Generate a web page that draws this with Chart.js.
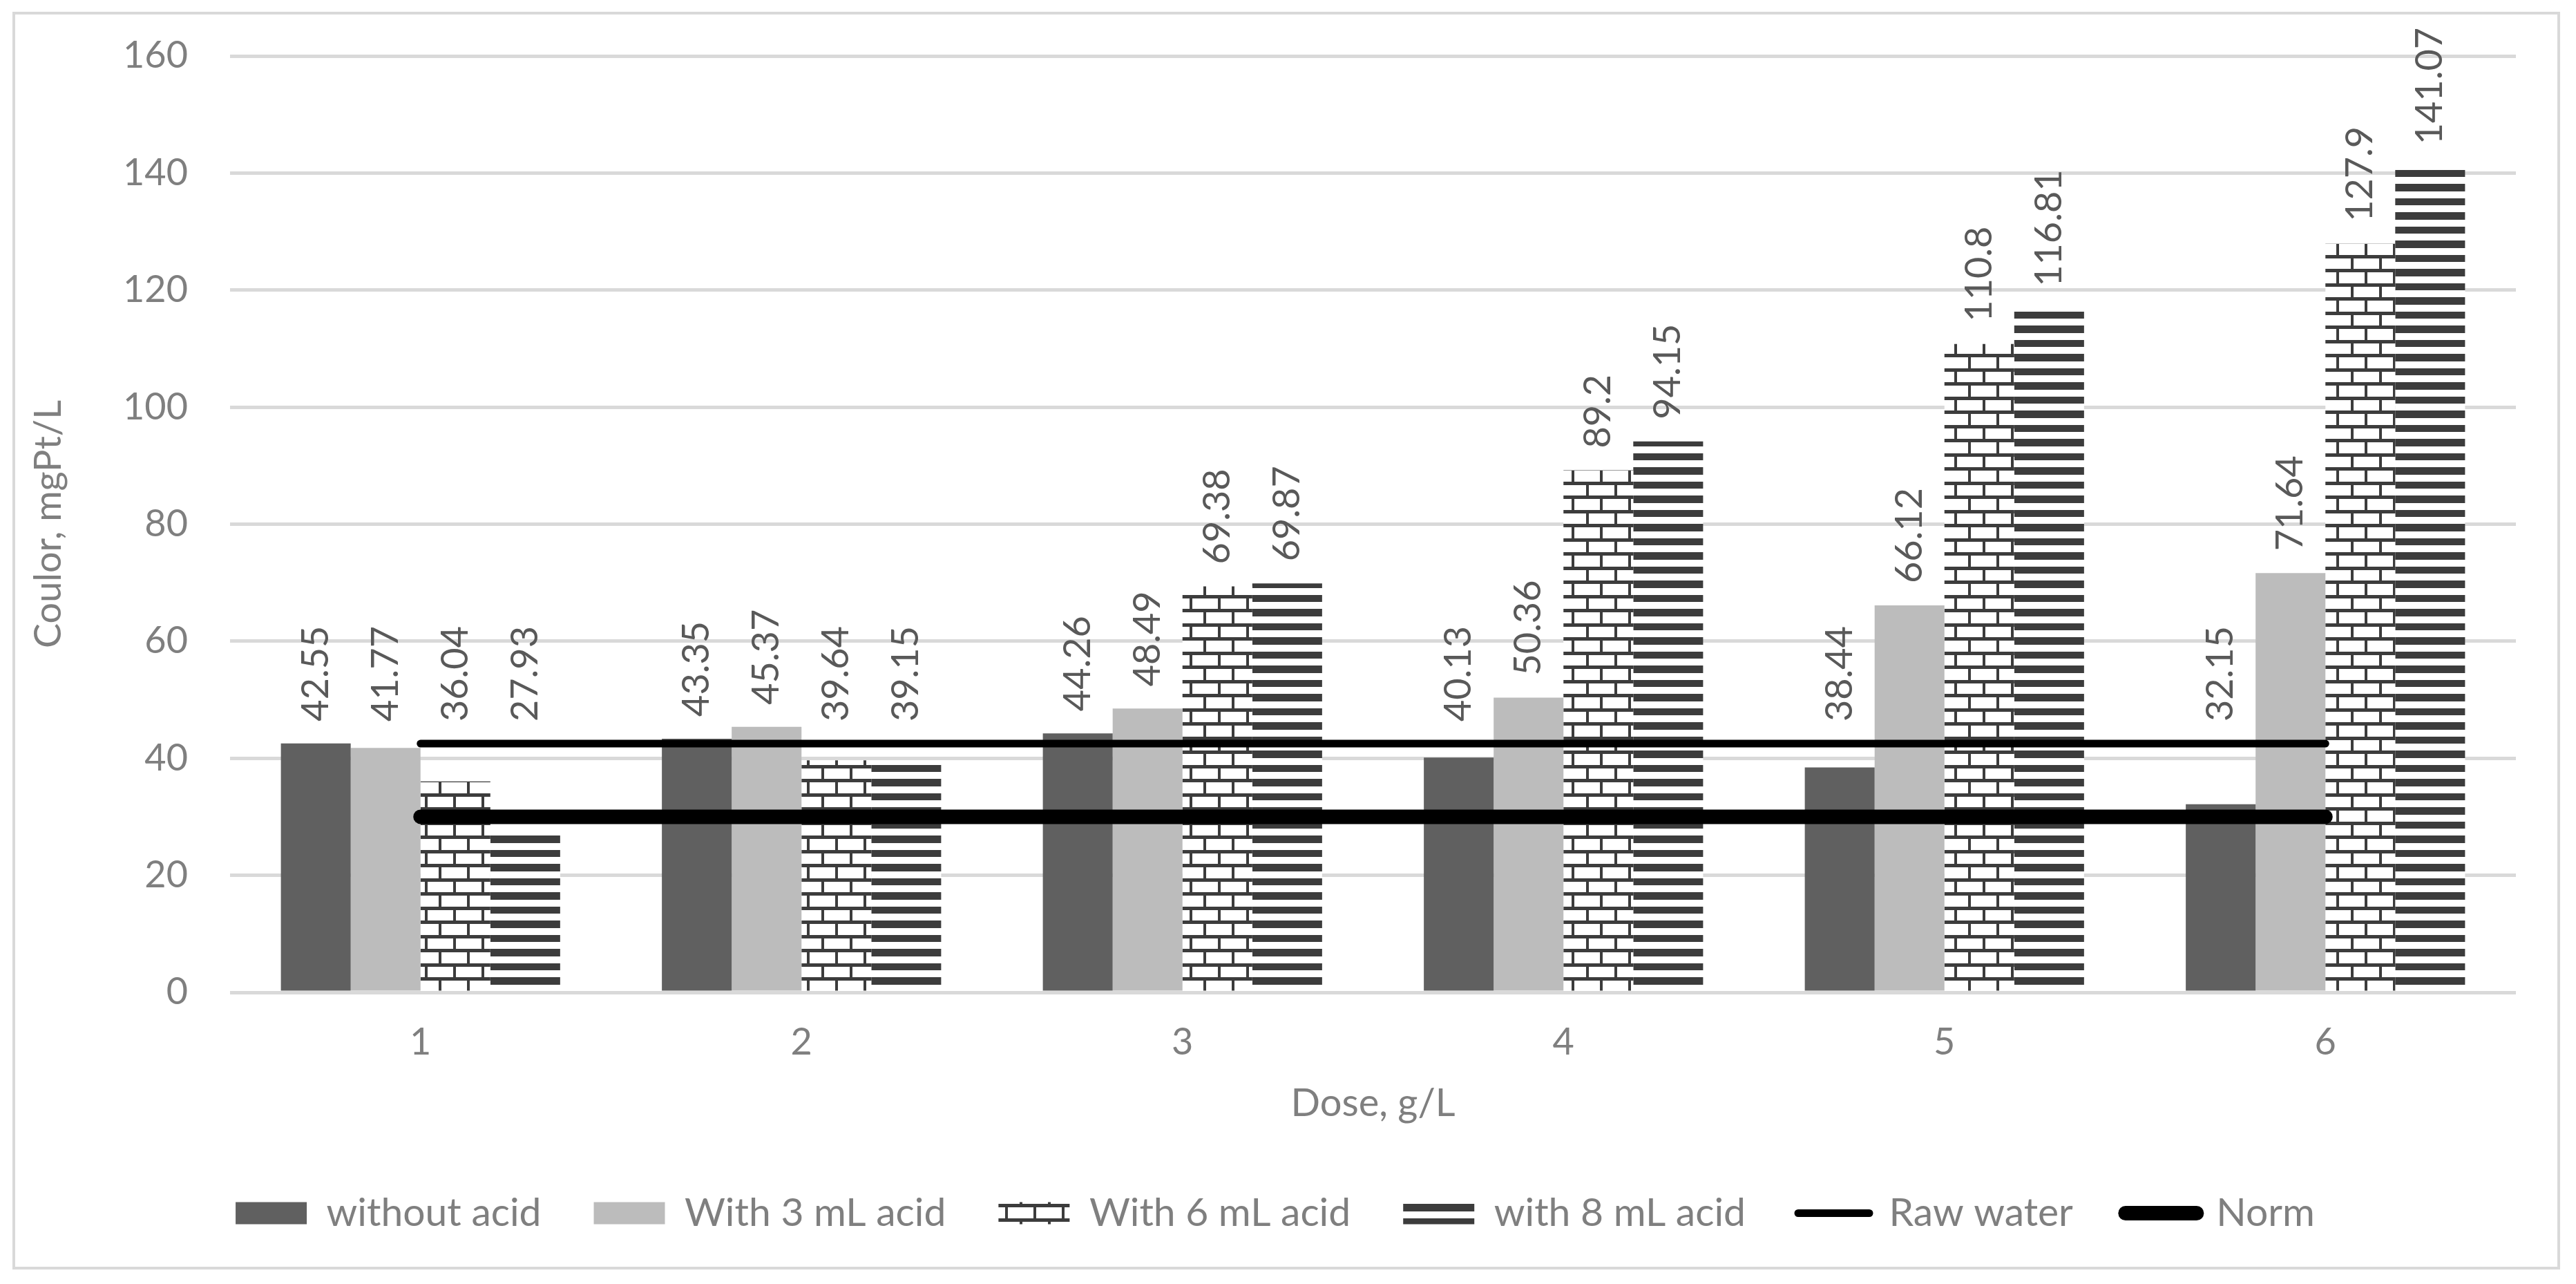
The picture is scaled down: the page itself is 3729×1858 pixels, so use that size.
<!DOCTYPE html>
<html>
<head>
<meta charset="utf-8">
<script src="https://cdn.jsdelivr.net/npm/chart.js@4.4.1/dist/chart.umd.min.js"></script>
<style>
  html, body { margin: 0; padding: 0; background: #fff; }
  canvas { display: block; }
</style>
</head>
<body>
<canvas id="colorChart" width="3729" height="1858"></canvas>
<script>
const doses = ['1', '2', '3', '4', '5', '6'];
const withoutAcid = [42.55, 43.35, 44.26, 40.13, 38.44, 32.15];
const with3mL = [41.77, 45.37, 48.49, 50.36, 66.12, 71.64];
const with6mL = [36.04, 39.64, 69.38, 89.2, 110.8, 127.9];
const with8mL = [27.93, 39.15, 69.87, 94.15, 116.81, 141.07];
const rawWater = [42.5, 42.5, 42.5, 42.5, 42.5, 42.5];
const norm = [30, 30, 30, 30, 30, 30];
const yMin = 0, yMax = 160, yStep = 20;

const GREY_TEXT = '#7f7f7f';
const LABEL_TEXT = '#595959';
const FONT = { family: 'Lato', size: 54 };
const LEGEND_FONT = { family: 'Lato', size: 57 };

const canvas = document.getElementById('colorChart');
const mainCtx = canvas.getContext('2d');

// excel "horizontal brick" fill
function brickPattern() {
    const c = document.createElement('canvas');
    c.width = 41; c.height = 41;
    const g = c.getContext('2d');
    g.fillStyle = '#fff';
    g.fillRect(0, 0, 41, 41);
    g.fillStyle = '#3c3c3c';
    g.fillRect(0, 0, 41, 5);
    g.fillRect(0, 20, 41, 5);
    g.fillRect(0, 5, 4, 15);
    g.fillRect(20, 25, 4, 16);
    return mainCtx.createPattern(c, 'repeat');
}

// excel "dark horizontal" fill
function stripePattern() {
    const c = document.createElement('canvas');
    c.width = 41; c.height = 41;
    const g = c.getContext('2d');
    g.fillStyle = '#fff';
    g.fillRect(0, 0, 41, 41);
    g.fillStyle = '#3c3c3c';
    g.fillRect(0, 0, 41, 10);
    g.fillRect(0, 20, 41, 11);
    return mainCtx.createPattern(c, 'repeat');
}

const frame = {
    id: 'frame',
    beforeDraw(chart) {
        const ctx = chart.ctx;
        ctx.save();
        ctx.fillStyle = '#fff';
        ctx.fillRect(0, 0, chart.width, chart.height);
        ctx.strokeStyle = '#d9d9d9';
        ctx.lineWidth = 4;
        ctx.strokeRect(20, 19, 3684, 1816);
        ctx.restore();
    }
};

// rotated value labels, kept above the raw water line like in the original
const barLabels = {
    id: 'barLabels',
    afterDatasetsDraw(chart) {
        const ctx = chart.ctx;
        const lineY = chart.scales.y.getPixelForValue(rawWater[0]);
        ctx.save();
        ctx.fillStyle = LABEL_TEXT;
        ctx.font = FONT.size + 'px ' + FONT.family;
        ctx.textAlign = 'left';
        ctx.textBaseline = 'middle';
        chart.data.datasets.forEach((ds, i) => {
            if (ds.type === 'line') return;
            chart.getDatasetMeta(i).data.forEach((bar, j) => {
                const y = Math.min(bar.y, lineY) - 32;
                ctx.save();
                ctx.translate(bar.x, y);
                ctx.rotate(-Math.PI / 2);
                ctx.fillText(String(ds.data[j]), 0, 0);
                ctx.restore();
            });
        });
        ctx.restore();
    }
};

new Chart(canvas, {
    data: {
        labels: doses,
        datasets: [
            { type: 'bar', label: 'without acid', data: withoutAcid, backgroundColor: '#606060' },
            { type: 'bar', label: 'With 3 mL acid', data: with3mL, backgroundColor: '#bcbcbc' },
            { type: 'bar', label: 'With 6 mL acid', data: with6mL, backgroundColor: brickPattern() },
            { type: 'bar', label: 'with 8 mL acid', data: with8mL, backgroundColor: stripePattern() },
            { type: 'line', label: 'Raw water', data: rawWater, borderColor: '#000', borderWidth: 11,
              borderCapStyle: 'round', pointRadius: 0, fill: false, order: -1 },
            { type: 'line', label: 'Norm', data: norm, borderColor: '#000', borderWidth: 21,
              borderCapStyle: 'round', pointRadius: 0, fill: false, order: -1 }
        ]
    },
    options: {
        responsive: false,
        devicePixelRatio: 1,
        animation: false,
        events: [],
        layout: { padding: { left: 50, right: 87, top: 81, bottom: 64 } },
        datasets: {
            bar: { barPercentage: 1, categoryPercentage: 0.733, borderWidth: 0 }
        },
        scales: {
            x: {
                offset: true,
                grid: { display: false, drawTicks: false },
                border: { display: false },
                ticks: { color: GREY_TEXT, font: FONT, padding: 40 },
                title: { display: true, text: 'Dose, g/L', color: GREY_TEXT, font: { family: 'Lato', size: 56 },
                         padding: { top: 0, bottom: 20 } },
                afterFit(scale) { scale.height = 215; }
            },
            y: {
                min: yMin,
                max: yMax,
                ticks: { stepSize: yStep, color: GREY_TEXT, font: FONT, padding: 0 },
                // invisible tick marks keep labels off the plot without padding the top
                grid: { color: '#d9d9d9', lineWidth: 5, drawTicks: true, tickLength: 61, tickColor: 'rgba(0,0,0,0)' },
                border: { display: false },
                title: { display: true, text: 'Coulor, mgPt/L', color: GREY_TEXT, font: FONT, padding: { top: -12, bottom: 0 } },
                afterFit(scale) { scale.width = 283; }
            }
        },
        plugins: {
            tooltip: { enabled: false },
            legend: {
                position: 'bottom',
                labels: {
                    usePointStyle: true,
                    pointStyleWidth: 103,
                    boxHeight: 32,
                    padding: 76,
                    color: GREY_TEXT,
                    font: LEGEND_FONT,
                    sort: (a, b) => a.datasetIndex - b.datasetIndex,
                    generateLabels(chart) {
                        const items = Chart.defaults.plugins.legend.labels.generateLabels(chart);
                        items.forEach(item => {
                            const ds = chart.data.datasets[item.datasetIndex];
                            if (ds.type === 'line') {
                                item.pointStyle = 'line';
                                item.lineCap = 'round';
                                item.lineWidth = ds.borderWidth;
                                item.strokeStyle = '#000';
                            } else {
                                item.pointStyle = 'rect';
                                item.lineWidth = 0;
                                item.fillStyle = ds.backgroundColor;
                            }
                        });
                        return items;
                    }
                }
            }
        }
    },
    plugins: [frame, barLabels]
});
</script>
</body>
</html>
